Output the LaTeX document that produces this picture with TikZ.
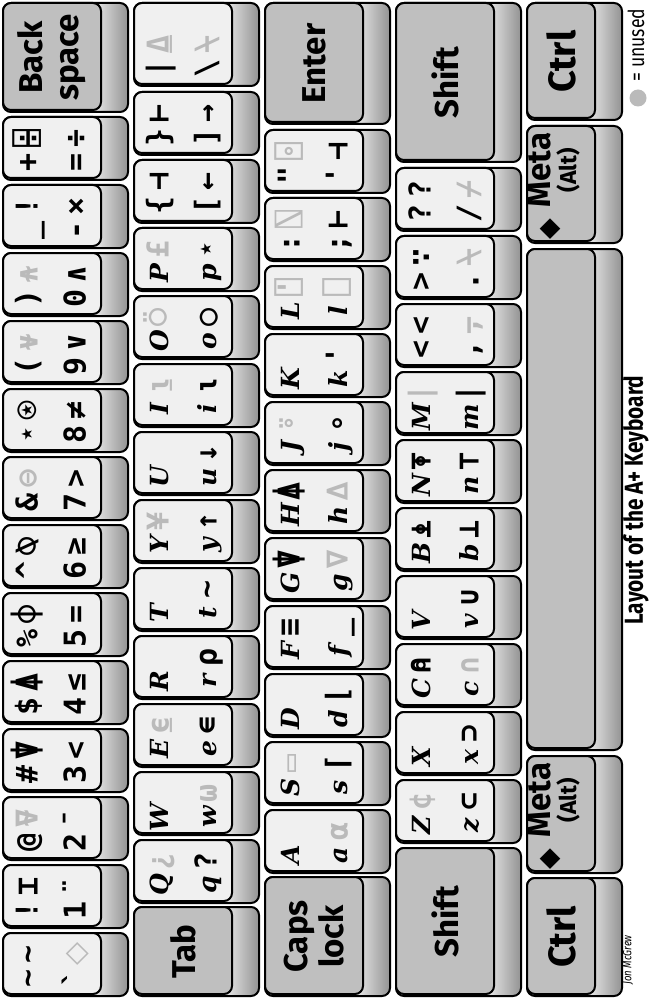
\documentclass[tikz,border=0pt]{standalone}
\usepackage{fontspec}
\setmainfont{Fira Sans}
\newfontfamily\kbletter{DejaVu Serif}
\newfontfamily\kbsymbol{DejaVu Sans Mono}
\newfontfamily\kbshape{DejaVu Sans}
\newfontfamily\kbcond{Fira Sans}[FakeStretch=0.8]
\usepackage{xcolor}
\definecolor{keyface}{gray}{0.94}
\definecolor{modface}{gray}{0.75}
\definecolor{unusedgray}{gray}{0.73}
\newcommand{\ltr}[1]{{\kbletter\bfseries\itshape\fontsize{25}{25}\selectfont #1}}
\newcommand{\nouse}[1]{{\color{unusedgray}#1}}
% key body: face colour, left x, top y, length, depth
\newcommand{\kbkey}[5]{%
  \fill[keybase] (#2,-#3) rectangle ({#2+#5},{-#3-#4});
  \shade[keyside] ({#2+#5-30},-#3) rectangle ({#2+#5},{-#3-#4});
  \draw[keyrim] (#2,-#3) rectangle ({#2+#5},{-#3-#4});
  \draw[keytop,fill=#1] (#2,-#3) rectangle ({#2+#5-27},{-#3-#4+2});
}
% character key: [length], name, left x, top y, four glyphs
\newcommand{\kbchar}[8][63]{%
  \kbkey{keyface}{#3}{#4}{#1}{125}
  \node[glyph] (#2-tl) at ({#3+26},{-#4-#1+18}) {#5};
  \node[glyph] (#2-tr) at ({#3+26},{-#4-#1+42}) {#6};
  \node[glyph] (#2-bl) at ({#3+74},{-#4-#1+18}) {#7};
  \node[glyph] (#2-br) at ({#3+74},{-#4-#1+42}) {#8};
}

\begin{document}
\begin{tikzpicture}[
  x=1pt, y=1pt,
  keybase/.style={fill=gray!25,rounded corners=8pt},
  keyside/.style={left color=gray!25,right color=gray!85,rounded corners=8pt},
  keyrim/.style={draw=black,line width=2pt,rounded corners=8pt},
  keytop/.style={draw=black,line width=2pt,rounded corners=8pt},
  glyph/.style={rotate=90,inner sep=0pt,text height=22pt,text depth=5pt,
    font=\kbsymbol\bfseries\fontsize{30}{30}\selectfont},
  modlabel/.style={rotate=90,align=center,inner sep=0pt,
    font=\bfseries\fontsize{33}{36}\selectfont},
  metalabel/.style={rotate=90,align=center,inner sep=0pt,
    font=\bfseries\fontsize{33}{26}\selectfont},
  metamark/.style={rotate=90,inner sep=0pt,font=\kbshape\fontsize{27}{27}\selectfont},
  titletext/.style={rotate=90,inner sep=0pt,font=\kbcond\bfseries\fontsize{26}{26}\selectfont},
  legendtext/.style={rotate=90,inner sep=0pt,font=\kbcond\fontsize{22}{22}\selectfont},
  legenddot/.style={circle,fill=unusedgray,inner sep=0pt,minimum size=17pt},
  signature/.style={rotate=90,inner sep=0pt,font=\kbcond\itshape\fontsize{12}{12}\selectfont}
]
  \useasboundingbox (0,0) rectangle (650,-1000);
  \fill[white] (0,0) rectangle (650,-1000);

  % number row
  \kbchar{grave}{3}{933}{\textasciitilde}{\textasciitilde}{\textasciigrave}{\nouse{{\kbshape ◇}}}
  \kbchar{one}{3}{865}{!}{⌶}{1}{¨}
  \kbchar{two}{3}{797}{@}{\nouse{⍫}}{2}{¯}
  \kbchar{three}{3}{729}{\#}{⍒}{3}{<}
  \kbchar{four}{3}{661}{\$}{⍋}{4}{≤}
  \kbchar{five}{3}{593}{\%}{⌽}{5}{=}
  \kbchar{six}{3}{525}{\textasciicircum}{⍉}{6}{≥}
  \kbchar{seven}{3}{457}{\&}{\nouse{⊖}}{7}{>}
  \kbchar{eight}{3}{389}{⋆}{⍟}{8}{≠}
  \kbchar{nine}{3}{321}{(}{\nouse{⍱}}{9}{∨}
  \kbchar{zero}{3}{253}{)}{\nouse{⍲}}{0}{∧}
  \kbchar{minus}{3}{185}{\_}{!}{-}{×}
  \kbchar{equals}{3}{117}{+}{⌹}{=}{÷}
  \kbkey{modface}{3}{3}{109}{125}
  \node[modlabel] (backspace) at (52,-57.5) {Back\\space};

  % tab row
  \kbkey{modface}{134}{907}{89}{125}
  \node[modlabel] (tab) at (183,-951.5) {Tab};
  \kbchar{q}{134}{840}{\ltr{Q}}{\nouse{¿}}{\ltr{q}}{?}
  \kbchar{w}{134}{772}{\ltr{W}}{}{\ltr{w}}{\nouse{⍵}}
  \kbchar{e}{134}{704}{\ltr{E}}{\nouse{⍷}}{\ltr{e}}{∊}
  \kbchar{r}{134}{636}{\ltr{R}}{}{\ltr{r}}{⍴}
  \kbchar{t}{134}{568}{\ltr{T}}{}{\ltr{t}}{\textasciitilde}
  \kbchar{y}{134}{500}{\ltr{Y}}{\nouse{¥}}{\ltr{y}}{↑}
  \kbchar{u}{134}{432}{\ltr{U}}{}{\ltr{u}}{↓}
  \kbchar{i}{134}{364}{\ltr{I}}{\nouse{⍸}}{\ltr{i}}{⍳}
  \kbchar{o}{134}{296}{\ltr{O}}{\nouse{⍥}}{\ltr{o}}{○}
  \kbchar{p}{134}{228}{\ltr{P}}{\nouse{£}}{\ltr{p}}{⋆}
  \kbchar{lbrack}{134}{160}{\{}{⊣}{[}{←}
  \kbchar{rbrack}{134}{92}{\}}{⊢}{]}{→}
  \kbchar[83]{bslash}{134}{3}{|}{\nouse{⍙}}{\textbackslash}{\nouse{⍀}}

  % home row
  \kbkey{modface}{265}{877}{119}{125}
  \node[modlabel] (capslock) at (314,-936.5) {Caps\\lock};
  \kbchar{a}{265}{810}{\ltr{A}}{}{\ltr{a}}{\nouse{⍺}}
  \kbchar{s}{265}{742}{\ltr{S}}{\nouse{▭}}{\ltr{s}}{⌈}
  \kbchar{d}{265}{674}{\ltr{D}}{}{\ltr{d}}{⌊}
  \kbchar{f}{265}{606}{\ltr{F}}{≡}{\ltr{f}}{\_}
  \kbchar{g}{265}{538}{\ltr{G}}{⍒}{\ltr{g}}{\nouse{∇}}
  \kbchar{h}{265}{470}{\ltr{H}}{⍋}{\ltr{h}}{\nouse{∆}}
  \kbchar{j}{265}{402}{\ltr{J}}{\nouse{⍤}}{\ltr{j}}{∘}
  \kbchar{k}{265}{334}{\ltr{K}}{}{\ltr{k}}{\textquotesingle}
  \kbchar{l}{265}{266}{\ltr{L}}{\nouse{⍞}}{\ltr{l}}{\nouse{⎕}}
  \kbchar{semi}{265}{198}{:}{\nouse{⍂}}{;}{⊢}
  \kbchar{quote}{265}{130}{\textquotedbl}{\nouse{⌻}}{\textquotesingle}{⊣}
  \kbkey{modface}{265}{3}{121}{125}
  \node[modlabel] (enter) at (314,-63.5) {Enter};

  % shift row
  \kbkey{modface}{396}{848}{148}{125}
  \node[modlabel] (lshift) at (445,-922) {Shift};
  \kbchar{z}{396}{780}{\ltr{Z}}{\nouse{¢}}{\ltr{z}}{⊂}
  \kbchar{x}{396}{712}{\ltr{X}}{}{\ltr{x}}{⊃}
  \kbchar{c}{396}{644}{\ltr{C}}{⍝}{\ltr{c}}{\nouse{∩}}
  \kbchar{v}{396}{576}{\ltr{V}}{}{\ltr{v}}{∪}
  \kbchar{b}{396}{508}{\ltr{B}}{⍎}{\ltr{b}}{⊥}
  \kbchar{n}{396}{440}{\ltr{N}}{⍕}{\ltr{n}}{⊤}
  \kbchar{m}{396}{372}{\ltr{M}}{\nouse{|}}{\ltr{m}}{|}
  \kbchar{comma}{396}{304}{<}{<}{,}{\nouse{⍪}}
  \kbchar{period}{396}{236}{>}{∵}{.}{\nouse{⍀}}
  \kbchar{slash}{396}{168}{?}{?}{/}{\nouse{⌿}}
  \kbkey{modface}{396}{3}{159}{125}
  \node[modlabel] (rshift) at (445,-82.5) {Shift};

  % bottom row
  \kbkey{modface}{527}{878}{118}{95}
  \node[modlabel,font=\bfseries\fontsize{38}{38}\selectfont] (lctrl) at (561,-937) {Ctrl};
  \kbkey{modface}{527}{756}{117}{95}
  \node[metalabel] (lmeta) at (554,-800) {Meta\\{\fontsize{23}{23}\selectfont(Alt)}};
  \node[metamark] (lmetamark) at (550,-859) {◆};
  \kbkey{modface}{527}{249}{501}{95}
  \kbkey{modface}{527}{126}{117}{95}
  \node[metalabel] (rmeta) at (554,-170) {Meta\\{\fontsize{23}{23}\selectfont(Alt)}};
  \node[metamark] (rmetamark) at (550,-229) {◆};
  \kbkey{modface}{527}{3}{117}{95}
  \node[modlabel,font=\bfseries\fontsize{38}{38}\selectfont] (rctrl) at (561,-61.5) {Ctrl};

  \node[titletext] (title) at (636,-500) {Layout of the A+ Keyboard};
  \node[legenddot] (dot) at (638,-98) {};
  \node[legendtext] (legend) at (636,-45) {= unused};
  \node[signature] (sig) at (628,-960) {Jon McGrew};
\end{tikzpicture}
\end{document}
